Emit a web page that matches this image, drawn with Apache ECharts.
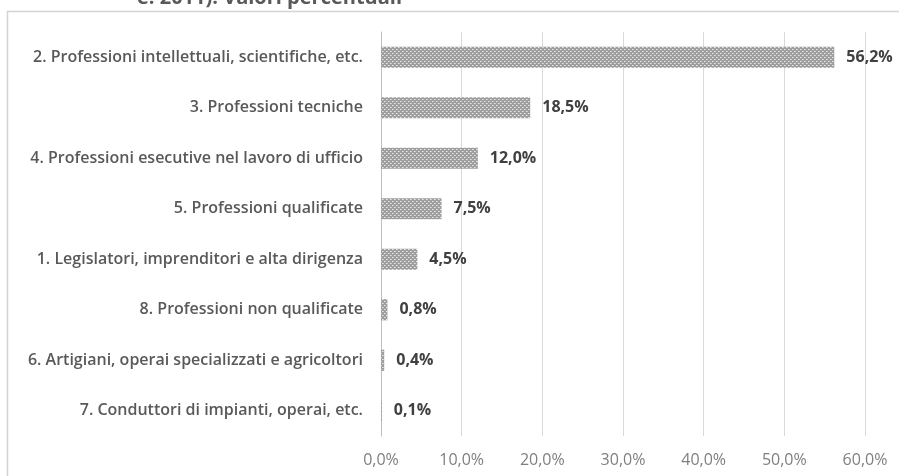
<!DOCTYPE html>
<html>
<head>
<meta charset="utf-8">
<script src="https://cdn.jsdelivr.net/npm/echarts@6/dist/echarts.min.js"></script>
<style>html,body{margin:0;padding:0;background:#fff}#c{width:899px;height:476px}</style>
</head>
<body>
<div id="c"></div>
<script>
const categories = [
  "2. Professioni intellettuali, scientifiche, etc.",
  "3. Professioni tecniche",
  "4. Professioni esecutive nel lavoro di ufficio",
  "5. Professioni qualificate",
  "1. Legislatori, imprenditori e alta dirigenza",
  "8. Professioni non qualificate",
  "6. Artigiani, operai specializzati e agricoltori",
  "7. Conduttori di impianti, operai, etc."
];
const values = [56.2, 18.5, 12.0, 7.5, 4.5, 0.8, 0.4, 0.1];
const axisTicks = [0, 10, 20, 30, 40, 50, 60];
const titleText = "e. 2011). Valori percentuali";

function fmt(v){ return v.toFixed(1).replace('.', ',') + '%'; }

// dotted grey fill pattern
const tile = document.createElement('canvas');
tile.width = 4; tile.height = 4;
const g = tile.getContext('2d');
g.fillStyle = '#9e9e9e'; g.fillRect(0,0,4,4);
g.fillStyle = '#e8e8e8';
g.fillRect(0,1,1,1); g.fillRect(2,3,1,1);
g.fillStyle = '#c8c8c8';
g.fillRect(1,1,1,1); g.fillRect(3,3,1,1);

const chart = echarts.init(document.getElementById('c'));
const font = '"Open Sans", "Noto Sans", sans-serif';
chart.setOption({
  animation: false,
  graphic: [
    { type: 'rect', shape: { x: 7.5, y: 11.5, width: 1000, height: 1000 },
      style: { fill: 'none', stroke: '#d4d4d4', lineWidth: 1.5 }, z: -1 },
    { type: 'text', left: 137, top: -12,
      style: { text: titleText, fill: '#595959', font: 'bold 20px ' + font } }
  ],
  grid: { left: 381, right: 34, top: 32, bottom: 40, containLabel: false },
  xAxis: {
    type: 'value', min: 0, max: 60, interval: 10,
    axisLine: { show: false }, axisTick: { show: false },
    splitLine: { lineStyle: { color: '#d9d9d9', width: 1 } },
    axisLabel: { color: '#7f7f7f', fontSize: 16, fontFamily: font, margin: 16,
      formatter: v => axisTicks.includes(v) ? fmt(v) : '' }
  },
  yAxis: {
    type: 'category', data: categories, inverse: true,
    axisLine: { show: true, lineStyle: { color: '#bfbfbf' } },
    axisTick: { show: false },
    axisLabel: { color: '#595959', fontSize: 16, fontWeight: 600, fontFamily: font, margin: 18 }
  },
  series: [{
    type: 'bar', data: values, barWidth: '42%',
    itemStyle: { color: { image: tile, repeat: 'repeat' } },
    label: { show: true, position: 'right', distance: 12, formatter: p => fmt(p.value),
      color: '#404040', fontSize: 16, fontWeight: 'bold', fontFamily: font }
  }]
});
</script>
</body>
</html>
